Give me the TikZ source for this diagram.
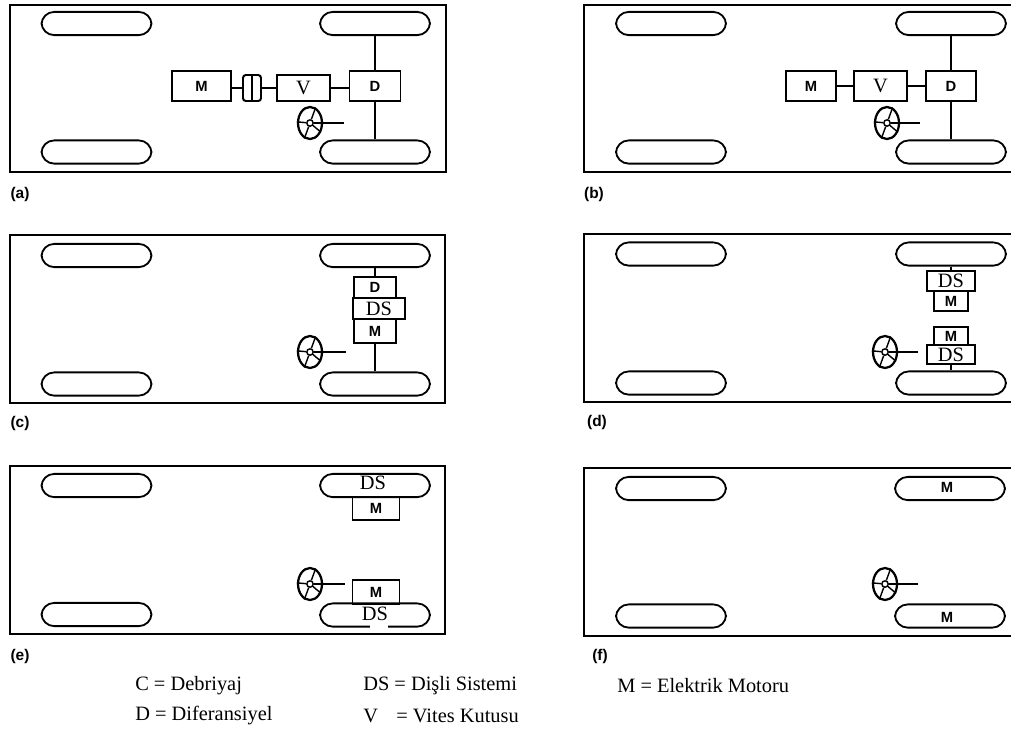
\documentclass[tikz,border=0pt]{standalone}
\usepackage{fontspec}
\setmainfont{Liberation Serif}
\setsansfont{Liberation Sans}
\usepackage{tikz}
\usetikzlibrary{calc}
\usetikzlibrary{shapes.geometric}
\tikzset{>=latex}
\tikzstyle{frame} = [line width=1.5pt]
\tikzstyle{tyre} = [draw, line width=1.3pt, rounded corners=9pt, minimum width=2.75cm, minimum height=0.58cm, inner sep=0pt]
\tikzstyle{unit} = [draw, line width=1.4pt, inner sep=0pt]
\tikzstyle{boldunit} = [unit, font=\sffamily\bfseries\fontsize{10.5}{11}\selectfont]
\tikzstyle{serifunit} = [unit, font=\fontsize{14.5}{15}\selectfont]
\tikzstyle{shaft} = [line width=1.1pt]
\tikzstyle{axle} = [line width=1.4pt]
\tikzstyle{caption} = [font=\sffamily\bfseries\fontsize{11}{12}\selectfont, inner sep=0pt]
\tikzstyle{legend} = [font=\fontsize{14.5}{15}\selectfont, anchor=west, inner sep=0pt]
\tikzset{dim/.style 2 args={minimum width=#1*0.025cm, minimum height=#2*0.025cm}}
\tikzset{steer/.pic={
    \node[draw, ellipse, line width=1.6pt, minimum width=0.6cm, minimum height=0.8cm, inner sep=0pt] (-rim) at (0,0) {};
    \node[draw, circle, line width=1pt, minimum size=0.16cm, inner sep=0pt] (-hub) at (0,0) {};
    \foreach \a in {70,175,250,320} {
        \draw[line width=1pt] (-hub.\a) -- (-rim.\a);
    }
}}

\begin{document}
\begin{tikzpicture}[x=0.025cm, y=-0.025cm]
    \useasboundingbox (0,0) rectangle (1011,733);

    % chassis outlines
    \draw[frame] (10,5) rectangle (446,172);
    \draw[frame] (10,235) rectangle (445,403);
    \draw[frame] (10,466) rectangle (445,634);
    \draw[frame] (1011,5) -- (584,5) -- (584,172) -- (1011,172);
    \draw[frame] (1011,234) -- (584,234) -- (584,402) -- (1011,402);
    \draw[frame] (1011,468) -- (584,468) -- (584,636) -- (1011,636);

    % road wheels
    \foreach \n/\x/\y in {a1/96.5/23.5, a2/96.5/152, a3/375/23.5, a4/375/152,
                          b1/671/23.5, b2/671/152, b3/951/23.5, b4/951/152,
                          c1/96.5/255.5, c2/96.5/384, c3/375/255.5, c4/375/384,
                          d1/671/254, d2/671/383, d3/951/254, d4/951/383,
                          e1/96.5/485.5, e2/96.5/614.5, e3/375/485.5, e4/375/615,
                          f1/671/488.5, f2/671/616, f3/950/488.5, f4/950/616} {
        \node[tyre] (w\n) at (\x,\y) {};
    }

    % (a)
    \node[boldunit, dim={59}{30}] (Ma) at (201.5,86) {M};
    \node[unit, dim={18}{26}, rounded corners=2pt] (Ca) at (252,88) {};
    \node[serifunit, dim={53}{26}] (Va) at (303.5,88) {V};
    \node[boldunit, dim={51}{30}] (Da) at (375,86) {D};
    \draw[shaft] (Ca.north) -- (Ca.south);
    \draw[shaft] (Ma.east |- Ca) -- (Ca.west);
    \draw[shaft] (Ca.east) -- (Va.west);
    \draw[shaft] (Va.east) -- (Da.west |- Va);
    \draw[axle] (wa3) -- (Da);
    \draw[axle] (Da) -- (wa4);
    \pic (sa) at (310,123) {steer};
    \coordinate (sae) at (344,123);
    \draw[shaft] (sa-hub) -- (sae);
    \node[caption] (la) at (20,194) {(a)};

    % (b)
    \node[boldunit, dim={50}{30}] (Mb) at (811,86) {M};
    \node[serifunit, dim={53}{30}] (Vb) at (880.5,86) {V};
    \node[boldunit, dim={50}{30}] (Db) at (951,86) {D};
    \draw[shaft] (Mb) -- (Vb);
    \draw[shaft] (Vb) -- (Db);
    \draw[shaft] (wb3) -- (Db);
    \draw[shaft] (Db) -- (wb4);
    \pic (sb) at (887,123) {steer};
    \coordinate (sbe) at (920,123);
    \draw[shaft] (sb-hub) -- (sbe);
    \node[caption] (lb) at (594,194) {(b)};

    % (c)
    \node[boldunit, dim={42}{21}] (Dc) at (375,287.5) {D};
    \node[boldunit, dim={42}{24}] (Mc) at (375,331) {M};
    \node[serifunit, dim={52}{21}] (Gc) at (379,308.5) {DS};
    \draw[axle] (wc3) -- (Dc);
    \draw[axle] (Mc) -- (wc4);
    \pic (sc) at (310,352) {steer};
    \coordinate (sce) at (346,352);
    \draw[shaft] (sc-hub) -- (sce);
    \node[caption] (lc) at (20,423) {(c)};

    % (d)
    \node[boldunit, dim={34}{20}] (Md1) at (951,301) {M};
    \node[serifunit, dim={48}{20}] (Gd1) at (951,281) {DS};
    \node[boldunit, dim={34}{18}] (Md2) at (951,336) {M};
    \node[serifunit, dim={48}{19}] (Gd2) at (951,354.5) {DS};
    \draw[shaft] (wd3) -- (Gd1);
    \draw[shaft] (Gd2) -- (wd4);
    \pic (sd) at (885,352) {steer};
    \coordinate (sde) at (918,352);
    \draw[shaft] (sd-hub) -- (sde);
    \node[caption] (ld) at (597,422) {(d)};

    % (e)
    \node[boldunit, dim={47}{23}] (Me1) at (376,508.5) {M};
    \node[boldunit, dim={47}{24}] (Me2) at (376,592) {M};
    \node[font=\fontsize{14.5}{15}\selectfont, inner sep=0pt] (Ge1) at (373,483) {DS};
    \node[font=\fontsize{14.5}{15}\selectfont, inner sep=0pt] (Ge2) at (375,614) {DS};
    \draw[white, line width=2.2pt] (370,627) -- (388,627);
    \pic (se) at (310,584) {steer};
    \coordinate (see) at (345,584);
    \draw[shaft] (se-hub) -- (see);
    \node[caption] (le) at (20,656) {(e)};

    % (f)
    \node[font=\sffamily\bfseries\fontsize{10.5}{11}\selectfont, inner sep=0pt] (Mf1) at (947,487) {M};
    \node[font=\sffamily\bfseries\fontsize{10.5}{11}\selectfont, inner sep=0pt] (Mf2) at (947,617) {M};
    \pic (sf) at (885,584) {steer};
    \coordinate (sfe) at (918,584);
    \draw[shaft] (sf-hub) -- (sfe);
    \node[caption] (lf) at (600,656) {(f)};

    % legend
    \node[legend] (kc) at (135,686) {C = Debriyaj};
    \node[legend] (kd) at (135,716) {D = Diferansiyel};
    \node[legend] (kg) at (363,686) {DS = Dişli Sistemi};
    \node[legend] (kv) at (363,716) {V\hspace{0.9em}= Vites Kutusu};
    \node[legend] (km) at (617,686) {M = Elektrik Motoru};
\end{tikzpicture}
\end{document}
